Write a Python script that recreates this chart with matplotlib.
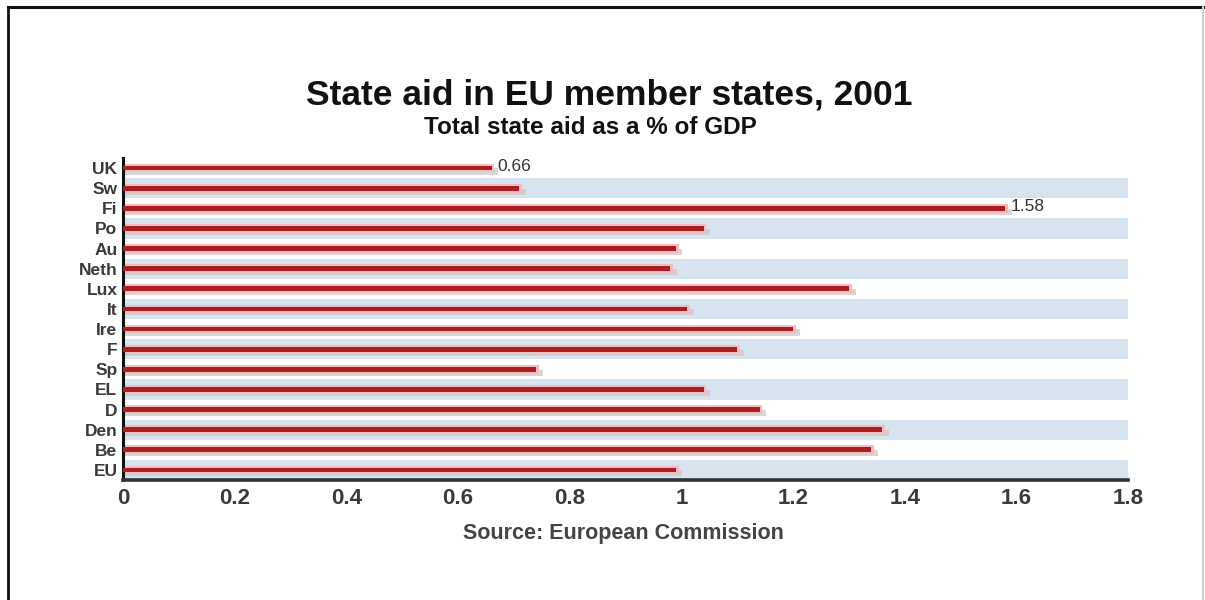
import matplotlib
matplotlib.use("Agg")
import matplotlib.pyplot as plt
from matplotlib.lines import Line2D

countries = ["UK", "Sw", "Fi", "Po", "Au", "Neth", "Lux", "It", "Ire", "F",
             "Sp", "EL", "D", "Den", "Be", "EU"]
aid_pct_gdp = [0.66, 0.71, 1.58, 1.04, 0.99, 0.98, 1.30, 1.01, 1.20, 1.10,
               0.74, 1.04, 1.14, 1.36, 1.34, 0.99]
labelled = {"UK": "0.66", "Fi": "1.58"}
xticks = [0, 0.2, 0.4, 0.6, 0.8, 1, 1.2, 1.4, 1.6, 1.8]
xticklabels = ["0", "0.2", "0.4", "0.6", "0.8", "1", "1.2", "1.4", "1.6", "1.8"]

plt.rcParams["font.family"] = ["Liberation Sans", "DejaVu Sans"]

W, H = 1205, 600
fig = plt.figure(figsize=(W / 100, H / 100), dpi=100)
fig.patch.set_facecolor("white")

ax = fig.add_axes([123 / W, 1 - 480 / H, (1128 - 123) / W, (480 - 158) / H])
ax.set_xlim(0, 1.8)
ax.set_ylim(len(countries) - 0.5, -0.5)

# alternating pale blue row bands
for i in range(len(countries)):
    if i % 2 == 1:
        ax.axhspan(i - 0.5, i + 0.5, xmin=0, xmax=1, color="#d7e3ee", lw=0, zorder=0)

ys = list(range(len(countries)))
# soft shadow under each bar
ax.barh([y + 0.17 for y in ys], [v + 0.012 for v in aid_pct_gdp], height=0.3,
        left=0, color="#cacaca", alpha=0.75, lw=0, zorder=1)
# pink halo
ax.barh(ys, [v + 0.005 for v in aid_pct_gdp], height=0.44, color="#f2bcbc", lw=0, zorder=2)
# red core
ax.barh(ys, aid_pct_gdp, height=0.24, color="#aa1d22", lw=0, zorder=3)

for name, y, v in zip(countries, ys, aid_pct_gdp):
    if name in labelled:
        ax.text(v + 0.01, y - 0.08, labelled[name], ha="left", va="center",
                fontsize=12.5, color="#333333", zorder=4)

ax.set_yticks(ys)
ax.set_yticklabels(countries, fontsize=12.5, fontweight="bold", color="#3a3a3a")
ax.set_xticks(xticks)
ax.set_xticklabels(xticklabels, fontsize=16, fontweight="bold", color="#3a3a3a")
ax.tick_params(axis="both", length=0)
ax.tick_params(axis="x", pad=6)
ax.tick_params(axis="y", pad=4)

for s in ("top", "right"):
    ax.spines[s].set_visible(False)
ax.spines["left"].set_color("#111111")
ax.spines["left"].set_linewidth(2.2)
ax.spines["bottom"].set_color("#333333")
ax.spines["bottom"].set_linewidth(2.6)
ax.set_facecolor("none")

fig.text(609 / W, 1 - 105 / H, "State aid in EU member states, 2001", ha="center",
         va="baseline", fontsize=25.5, fontweight="bold", color="#111111")
fig.text(590 / W, 1 - 134 / H, "Total state aid as a % of GDP", ha="center",
         va="baseline", fontsize=17.5, fontweight="bold", color="#111111")
fig.text(623 / W, 1 - 533 / H, "Source: European Commission", ha="center",
         va="center", fontsize=15.5, fontweight="bold", color="#444444")

# frame around the graphic
fig.add_artist(Line2D([8 / W, 8 / W], [0, 1 - 7 / H], transform=fig.transFigure,
                      color="#111111", lw=2))
fig.add_artist(Line2D([8 / W, 1 - 2 / W], [1 - 7 / H, 1 - 7 / H], transform=fig.transFigure,
                      color="#111111", lw=2.2))
fig.add_artist(Line2D([1 - 2 / W, 1 - 2 / W], [0, 1 - 7 / H], transform=fig.transFigure,
                      color="#cfcfcf", lw=1.5))

fig.savefig("out.png", dpi=100, facecolor="white")
